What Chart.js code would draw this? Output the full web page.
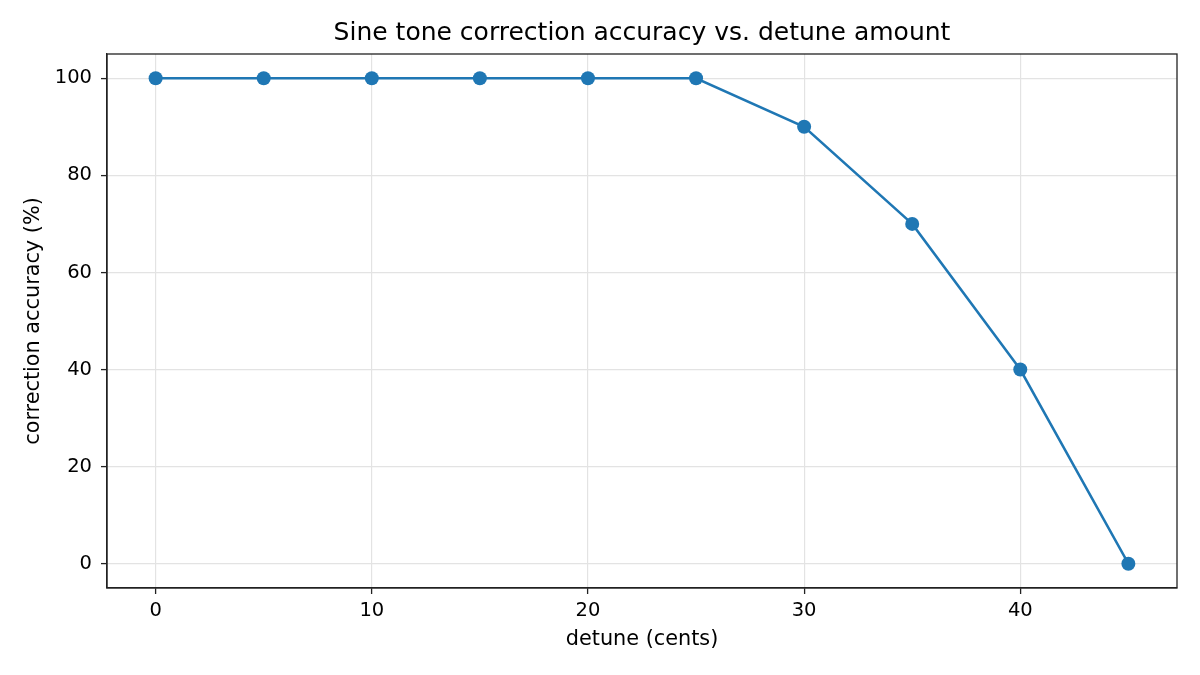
<!DOCTYPE html>
<html>
<head>
<meta charset="utf-8">
<script src="https://cdn.jsdelivr.net/npm/chart.js@4/dist/chart.umd.min.js"></script>
<style>
html,body{margin:0;padding:0;background:#fff;}
#wrap{width:1200px;height:675px;position:relative;}
</style>
</head>
<body>
<div id="wrap"><canvas id="c" width="1200" height="675"></canvas></div>
<script>
const detune = [0, 5, 10, 15, 20, 25, 30, 35, 40, 45];
const accuracy = [100, 100, 100, 100, 100, 100, 90, 70, 40, 0];
const xTicks = [0, 10, 20, 30, 40];
const yTicks = [0, 20, 40, 60, 80, 100];
const titleText = 'Sine tone correction accuracy vs. detune amount';
const xLabel = 'detune (cents)';
const yLabel = 'correction accuracy (%)';

const FONT = "'DejaVu Sans', sans-serif";

const textPlugin = {
  id: 'texts',
  afterDraw(chart) {
    const ctx = chart.ctx;
    const a = chart.chartArea;
    ctx.save();
    ctx.strokeStyle = '#222';
    ctx.lineWidth = 1.3;
    ctx.strokeRect(a.left, a.top, a.right - a.left, a.bottom - a.top);
    ctx.fillStyle = '#000';
    ctx.textAlign = 'center';
    ctx.textBaseline = 'middle';
    ctx.font = '25px ' + FONT;
    ctx.fillText(titleText, (a.left + a.right) / 2, 33);
    ctx.font = '20.8px ' + FONT;
    ctx.fillText(xLabel, (a.left + a.right) / 2, 640);
    ctx.translate(34, (a.top + a.bottom) / 2);
    ctx.rotate(-Math.PI / 2);
    ctx.fillText(yLabel, 0, 0);
    ctx.restore();
  }
};

new Chart(document.getElementById('c'), {
  type: 'line',
  data: {
    datasets: [{
      data: detune.map((x, i) => ({x: x, y: accuracy[i]})),
      borderColor: '#1f77b4',
      backgroundColor: '#1f77b4',
      borderWidth: 2.5,
      pointRadius: 7,
      pointHoverRadius: 7,
      pointBorderWidth: 0,
      tension: 0
    }]
  },
  options: {
    responsive: false,
    animation: false,
    devicePixelRatio: 1,
    layout: {padding: {left: 0, right: 23, top: 54, bottom: 0}},
    plugins: {legend: {display: false}, title: {display: false}, tooltip: {enabled: false}},
    scales: {
      x: {
        type: 'linear',
        min: -2.25, max: 47.25,
        afterBuildTicks(s) { s.ticks = xTicks.map(v => ({value: v})); },
        afterFit(s) { s.height = 675 - 588; },
        grid: {color: '#e3e3e3', lineWidth: 1.2, tickColor: '#222', tickLength: 6, tickWidth: 1.3},
        border: {display: true, color: '#222', width: 1.3},
        ticks: {color: '#000', font: {family: FONT, size: 19.5}, padding: 5, maxRotation: 0}
      },
      y: {
        min: -5, max: 105,
        afterBuildTicks(s) { s.ticks = yTicks.map(v => ({value: v})); },
        afterFit(s) { s.width = 107; },
        grid: {color: '#e3e3e3', lineWidth: 1.2, tickColor: '#222', tickLength: 6, tickWidth: 1.3},
        border: {display: true, color: '#222', width: 1.3},
        ticks: {color: '#000', font: {family: FONT, size: 19.5}, padding: 9}
      }
    }
  },
  plugins: [textPlugin]
});
</script>
</body>
</html>
